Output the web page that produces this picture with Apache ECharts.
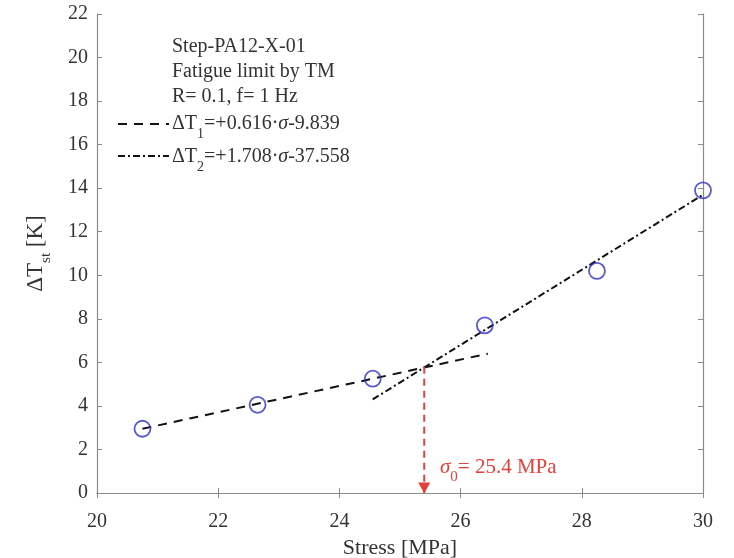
<!DOCTYPE html>
<html><head><meta charset="utf-8">
<script src="https://cdn.jsdelivr.net/npm/echarts@6/dist/echarts.min.js"></script>
<style>html,body{margin:0;padding:0;background:#fff}#c{width:734px;height:558px}</style>
</head><body><div id="c"></div>
<script>
// ---- data ----
const stress = [20.75, 22.65, 24.55, 26.4, 28.25, 30.0];
const dTst = [2.95, 4.05, 5.25, 7.7, 10.2, 13.9];
const fit1X = [20.75, 26.45];
const fit1Y = [2.95, 6.4];
const fit2X = [24.55, 30.0];
const fit2Y = [4.3, 13.7];
const sigma0 = 25.4;
const sigma0Y = 5.8;
const xTicks = [20, 22, 24, 26, 28, 30];
const yTicks = [0, 2, 4, 6, 8, 10, 12, 14, 16, 18, 20, 22];
const infoLines = ['Step-PA12-X-01', 'Fatigue limit by TM', 'R= 0.1, f= 1 Hz'];

const FONT = 'Liberation Serif';
const AX = '#8a8a8a';
const TXT = '#333';
const RED = '#e5403a';

const chart = echarts.init(document.getElementById('c'), null, {renderer: 'canvas'});
const pairs = (xs, ys) => xs.map((x, i) => [x, ys[i]]);

const baseX = {
  type: 'value', min: xTicks[0], max: xTicks[xTicks.length - 1], interval: 2,
  axisLine: {show: true, lineStyle: {color: AX, width: 1.2}},
  axisTick: {show: true, inside: true, length: 5, lineStyle: {color: AX}},
  splitLine: {show: false}
};
const baseY = {
  type: 'value', min: yTicks[0], max: yTicks[yTicks.length - 1], interval: 2,
  axisLine: {show: true, lineStyle: {color: AX, width: 1.2}},
  axisTick: {show: true, inside: true, length: 5, lineStyle: {color: AX}},
  splitLine: {show: false}
};

const richEq = (col, size) => ({
  m: {fontFamily: FONT, fontSize: size, fill: col, lineHeight: 34, verticalAlign: 'middle'},
  i: {fontFamily: FONT, fontSize: size, fontStyle: 'italic', fill: col, lineHeight: 34, verticalAlign: 'middle'},
  s: {fontFamily: FONT, fontSize: Math.round(size * 0.72), fill: col, lineHeight: 13, verticalAlign: 'bottom'}
});

const option = {
  backgroundColor: '#fff',
  animation: false,
  grid: {left: 97, right: 31, top: 14, bottom: 65, outerBoundsMode: 'none', containLabel: false},
  xAxis: [
    Object.assign({}, baseX, {
      position: 'bottom',
      axisLabel: {color: TXT, fontFamily: FONT, fontSize: 20, margin: 19},
      name: 'Stress [MPa]', nameLocation: 'middle', nameGap: 39,
      nameTextStyle: {color: TXT, fontFamily: FONT, fontSize: 22}
    }),
    Object.assign({}, baseX, {position: 'top', axisLabel: {show: false}})
  ],
  yAxis: [
    Object.assign({}, baseY, {
      position: 'left',
      axisLabel: {color: TXT, fontFamily: FONT, fontSize: 20, margin: 9},
      name: '{m|ΔT}{s|st}{m| [K]}', nameLocation: 'middle', nameGap: 43,
      nameTextStyle: {
        color: TXT, fontFamily: FONT, fontSize: 22,
        rich: {
          m: {fontFamily: FONT, fontSize: 23, color: TXT, lineHeight: 36, verticalAlign: 'middle'},
          s: {fontFamily: FONT, fontSize: 15, color: TXT, lineHeight: 14, verticalAlign: 'bottom'}
        }
      }
    }),
    Object.assign({}, baseY, {position: 'right', axisLabel: {show: false}})
  ],
  series: [
    {
      type: 'line', name: 'fit1', data: pairs(fit1X, fit1Y), symbol: 'none',
      lineStyle: {color: '#111', width: 2, type: [9, 7]}, z: 2
    },
    {
      type: 'line', name: 'fit2', data: pairs(fit2X, fit2Y), symbol: 'none',
      lineStyle: {color: '#111', width: 2, type: [7, 3, 2, 3]}, z: 2
    },
    {
      type: 'line', name: 'sigma0', data: [[sigma0, sigma0Y], [sigma0, 0]], symbol: 'none',
      lineStyle: {color: RED, width: 2, type: [7, 5]}, z: 3,
      markPoint: {
        symbol: 'triangle', symbolSize: [12, 11], symbolRotate: 180,
        symbolOffset: [0, -5],
        itemStyle: {color: RED}, label: {show: false},
        data: [{coord: [sigma0, 0]}]
      }
    },
    {
      type: 'scatter', name: 'data', data: pairs(stress, dTst),
      symbol: 'circle', symbolSize: 16,
      itemStyle: {color: 'rgba(0,0,0,0)', borderColor: '#2f2fc4', borderWidth: 1.8}, z: 4
    }
  ],
  graphic: [
    {type: 'text', left: 172, top: 37, style: {text: infoLines[0], font: '20px "Liberation Serif"', fill: TXT}},
    {type: 'text', left: 172, top: 62, style: {text: infoLines[1], font: '20px "Liberation Serif"', fill: TXT}},
    {type: 'text', left: 172, top: 87, style: {text: infoLines[2], font: '20px "Liberation Serif"', fill: TXT}},
    {type: 'line', shape: {x1: 118, y1: 124, x2: 169, y2: 124}, style: {stroke: '#111', lineWidth: 2, lineDash: [9, 7]}},
    {type: 'line', shape: {x1: 118, y1: 156, x2: 169, y2: 156}, style: {stroke: '#111', lineWidth: 2, lineDash: [7, 3, 2, 3]}},
    {type: 'text', left: 172, top: 114, style: {
      text: '{m|ΔT}{s|1}{m|=+0.616·}{i|σ}{m|-9.839}', rich: richEq(TXT, 20)}},
    {type: 'text', left: 172, top: 147, style: {
      text: '{m|ΔT}{s|2}{m|=+1.708·}{i|σ}{m|-37.558}', rich: richEq(TXT, 20)}},
    {type: 'text', left: 440, top: 457, style: {
      text: '{i|σ}{s|0}{m|= 25.4 MPa}', rich: richEq(RED, 21)}}
  ]
};
chart.setOption(option);
</script>
</body></html>
